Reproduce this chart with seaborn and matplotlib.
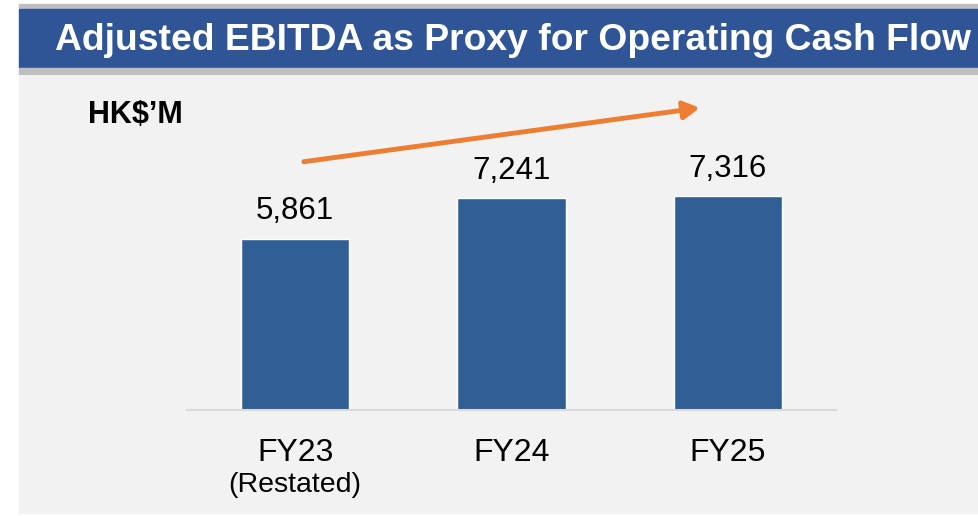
import pandas as pd
import seaborn as sns
import matplotlib.pyplot as plt
from matplotlib.patches import Rectangle

# Chart data
years = ["FY23", "FY24", "FY25"]
ebitda = [5861, 7241, 7316]
sub_labels = ["(Restated)", "", ""]
title = "Adjusted EBITDA as Proxy for Operating Cash Flow"
unit = "HK$\u2019M"

# Trend arrow (data coordinates: category index, HK$'M)
arrow_start = (0.04, 8490)
arrow_end = (1.87, 10330)

sns.set_theme(style="white")
plt.rcParams['font.family'] = ['Liberation Sans', 'DejaVu Sans']

W, H = 979, 516
fig = plt.figure(figsize=(W / 100, H / 100), dpi=100)
fig.patch.set_facecolor("white")

def px_rect(x0, y0, x1, y1, color):
    # rectangle given in pixel coords from top-left, kept behind the axes
    fig.patches.append(Rectangle((x0 / W, 1 - y1 / H), (x1 - x0) / W, (y1 - y0) / H,
                                 transform=fig.transFigure, color=color, zorder=-10))

# Title banner and panel
px_rect(19, 4, W, 9, "#bfbfbf")
px_rect(19, 9, W, 68, "#2f5597")
px_rect(19, 68, W, 74, "#bfbfbf")
px_rect(19, 76, W, 513, "#f2f2f2")
fig.text(55 / W, 1 - 40 / H, title, color="white", fontsize=26.8,
         fontweight="bold", ha="left", va="center")
fig.text(88 / W, 1 - 115 / H, unit, color="black", fontsize=22,
         fontweight="bold", ha="left", va="center")

df = pd.DataFrame({"year": years, "value": ebitda})

ax = fig.add_axes([187 / W, 106 / H, 649 / W, 310 / H])
ax.set_facecolor("none")
sns.barplot(data=df, x="year", y="value", color="#305f96", width=0.5,
            saturation=1, ax=ax)

ax.set_xlim(-0.5, 2.5)
ax.set_ylim(0, 10600)
for s in ["top", "right", "left"]:
    ax.spines[s].set_visible(False)
ax.spines["bottom"].set_color("#d9d9d9")
ax.spines["bottom"].set_linewidth(1.5)
ax.set_yticks([])
ax.set_xlabel("")
ax.set_ylabel("")
ax.tick_params(axis="x", length=0, pad=20, labelsize=23, labelcolor="black")

# Value labels
for i, v in enumerate(ebitda):
    ax.annotate(f"{v:,}", (i, v), xytext=(0, 9), textcoords="offset points",
                ha="center", va="bottom", fontsize=22.5, color="black")

# Sub labels under the ticks
for i, s in enumerate(sub_labels):
    if s:
        ax.annotate(s, (i, 0), xytext=(0, -54), textcoords="offset points",
                    ha="center", va="center", fontsize=20.5, color="black",
                    annotation_clip=False)

# Trend arrow
ax.annotate("", xy=arrow_end, xytext=arrow_start,
            arrowprops=dict(arrowstyle="-|>,head_length=0.8,head_width=0.45",
                            color="#ed7d31", lw=3.5, shrinkA=0, shrinkB=0),
            annotation_clip=False)

fig.savefig("out.png", dpi=100)
